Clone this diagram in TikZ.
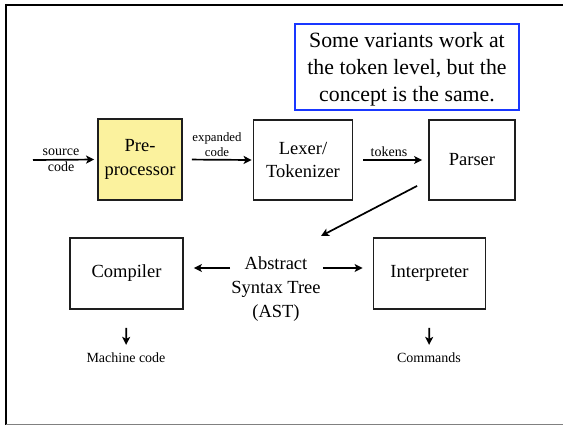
\documentclass[tikz,border=0pt]{standalone}
\usepackage{fontspec}
\setmainfont{Liberation Serif}
\usetikzlibrary{arrows.meta,calc}
\definecolor{prefill}{RGB}{251,242,158}
\definecolor{noteblue}{RGB}{25,55,255}
\definecolor{boxline}{RGB}{30,30,30}
\tikzset{
  stagebox/.style={draw=boxline,line width=1.8pt,align=center,inner sep=0pt,
    font=\fontsize{18.5}{23.5}\selectfont},
  arr/.style={line width=1.7pt,-{Stealth[length=8pt,width=8pt,inset=2pt]}},
  smalllabel/.style={align=center,inner sep=0pt,font=\fontsize{14}{16}\selectfont},
  tinylabel/.style={align=center,inner sep=0pt,font=\fontsize{12.8}{15}\selectfont},
}
\begin{document}
\begin{tikzpicture}[x=1pt,y=-1pt]
\useasboundingbox (0,0) rectangle (563,426);
% slide frame
\draw[line width=2pt] (5,4.8) -- (563,4.8);
\draw[line width=2.4pt] (6.2,3.8) -- (6.2,425);
\draw[gray,line width=1pt] (6,424.5) -- (563,424.5);

% note box and its text
\node[draw=noteblue,line width=1.8pt,minimum width=224,minimum height=86,inner sep=0pt]
  (note) at (407,67) {};
\node[align=center,inner sep=0pt,font=\fontsize{21.8}{27}\selectfont]
  (notetext) at ([yshift=-2pt]note.center) {Some variants work at\\the token level, but the\\concept is the same.};

% pipeline stages
\node[stagebox,fill=prefill,minimum width=84,minimum height=81] (pre) at (140,159.5) {Pre-\\processor};
\node[stagebox,minimum width=99,minimum height=80] (lex) at (303,160) {Lexer/\\Tokenizer};
\node[stagebox,minimum width=86,minimum height=80] (parser) at (472,160) {Parser};
\node[stagebox,minimum width=113,minimum height=71] (comp) at (126.5,273.5) {Compiler};
\node[stagebox,minimum width=112,minimum height=71] (interp) at (429.5,273.5) {Interpreter};

% abstract syntax tree
\node[align=center,inner sep=0pt,font=\fontsize{18.5}{24}\selectfont] (ast) at (276,289) {Abstract\\Syntax Tree\\(AST)};

% outputs
\node[smalllabel] (mach) at (126,358) {Machine code};
\node[smalllabel] (cmds) at (429,358) {Commands};

% input
\coordinate (src) at (33,160);
\draw[arr,shorten >=3pt] (src) -- (pre.west);
\node[smalllabel] (srclbl) at (61,160) {source\\code};

% stage connectors
\draw[arr,shorten <=9pt,shorten >=1pt] (pre.east) -- (lex.west);
\node[tinylabel,anchor=south] (explbl) at (217,157) {expanded\\code};
\draw[arr,shorten <=10pt,shorten >=6pt] (lex.east) -- (parser.west);
\node[smalllabel,anchor=south] (toklbl) at (389,157) {tokens};

\coordinate (pout) at ([shift={(-11,-15)}]parser.south west);
\coordinate (astin) at (321,236);
\draw[arr] (pout) -- (astin);

% AST feeds both back ends
\coordinate (compin) at ([yshift=5.5pt]comp.east);
\coordinate (interpin) at ([yshift=5.5pt]interp.west);
\draw[arr,shorten <=1pt,shorten >=10pt] (ast.west |- compin) -- (compin);
\draw[arr,shorten <=2pt,shorten >=10pt] (ast.east |- interpin) -- (interpin);

\draw[arr,shorten <=18pt,shorten >=8pt] (comp.south) -- (mach.north);
\draw[arr,shorten <=18pt,shorten >=8pt] (interp.south) -- (cmds.north);
\end{tikzpicture}
\end{document}
